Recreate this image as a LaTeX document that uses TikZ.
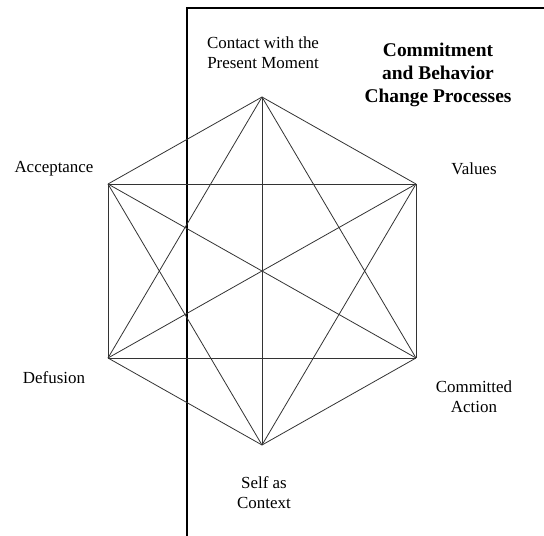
\documentclass[tikz,border=0pt]{standalone}
\usepackage{fontspec}
\setmainfont{Liberation Serif}
\usetikzlibrary{positioning}
\tikzstyle{label}=[text centered, align=center, inner sep=0pt, font=\fontsize{17}{20}\selectfont]
\tikzstyle{title}=[text centered, align=center, inner sep=0pt, font=\fontsize{19.5}{23}\selectfont\bfseries]
\tikzstyle{link}=[line width=0.8bp, black!80]
\tikzstyle{frame}=[line width=1.6bp, black]

\begin{document}
\begin{tikzpicture}[x=1bp, y=-1bp]
		\useasboundingbox (0,0) rectangle (544,536);
		
		% corners of the hexagon
		\coordinate(v1) at (262,97);
		\coordinate(v2) at (416,184);
		\coordinate(v3) at (416,358);
		\coordinate(v4) at (262,445);
		\coordinate(v5) at (108,358);
		\coordinate(v6) at (108,184);
		
		% frame
		\coordinate(f1) at (187,536);
		\coordinate(f2) at (187,8);
		\coordinate(f3) at (544,8);
		\draw[frame](f1)--(f2)--(f3);
		
		
		\node(l1)[label] at (263,53){Contact with the\\Present Moment};
		
		
		\node(l2)[label] at (474,169){Values};
		
		
		\node(l3)[label] at (474,397){Committed\\Action};
		
		
		\node(l4)[label] at (264,493){Self as\\Context};
		
		
		\node(l5)[label] at (54,378){Defusion};
		
		
		\node(l6)[label] at (54,169){Acceptance};
		
		
		\node(t1)[title] at (438,75){Commitment\\and Behavior\\Change Processes};
		
		
		\draw[link](v1)--(v2);
		\draw[link](v1)--(v3);
		\draw[link](v1)--(v4);
		\draw[link](v1)--(v5);
		\draw[link](v1)--(v6);
		\draw[link](v2)--(v3);
		\draw[link](v2)--(v4);
		\draw[link](v2)--(v5);
		\draw[link](v2)--(v6);
		\draw[link](v3)--(v4);
		\draw[link](v3)--(v5);
		\draw[link](v3)--(v6);
		\draw[link](v4)--(v5);
		\draw[link](v4)--(v6);
		\draw[link](v5)--(v6);
		
	\end{tikzpicture}
\end{document}
